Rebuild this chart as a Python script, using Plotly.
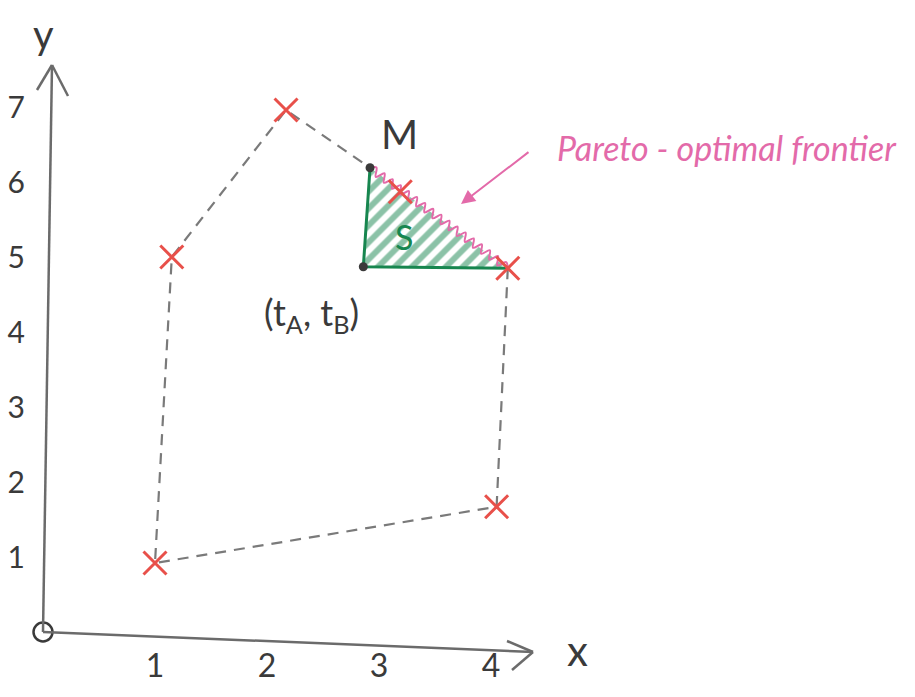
import numpy as np
import plotly.graph_objects as go

# ---- data -------------------------------------------------------------
x_ticks = [1, 2, 3, 4]
y_ticks = [1, 2, 3, 4, 5, 6, 7]

# feasible outcomes (red crosses), listed around the polygon
pts_x = [1.00, 4.05, 4.15, 3.19, 2.17, 1.15]
pts_y = [0.92, 1.67, 4.85, 5.87, 6.96, 5.00]

# corner points of the dominated region S
M_pt = (2.92, 6.19)
T_pt = (2.86, 4.87)

# ---- pixel <-> data helpers (x: 112 px/unit, y: 75 px/unit) ----------
W, H = 915, 697
X0_PX, Y0_PX, XU, YU = 43, 632, 112, 75
x_range = [-X0_PX / XU, (W - X0_PX) / XU]
y_range = [(Y0_PX - H) / YU, Y0_PX / YU]


def to_px(x, y):
    return X0_PX + XU * np.asarray(x), Y0_PX - YU * np.asarray(y)


def to_data(px, py):
    return (np.asarray(px) - X0_PX) / XU, (Y0_PX - np.asarray(py)) / YU


def squiggle(p0, p1, period=10.0, amp=4.0):
    """Wavy rendering of a straight segment, built in screen space."""
    a = np.array(to_px(*p0), float)
    b = np.array(to_px(*p1), float)
    d = b - a
    length = np.hypot(*d)
    n = int(length / (period / 2))
    t = np.linspace(0, 1, n + 1)
    normal = np.array([-d[1], d[0]]) / length
    off = amp * np.where(np.arange(n + 1) % 2 == 0, 1, -1)
    off[0] = off[-1] = 0
    pts = a[None, :] + t[:, None] * d[None, :] + off[:, None] * normal[None, :]
    return to_data(pts[:, 0], pts[:, 1])


GREY = "#7a7a7a"
INK = "#3a3a3a"
RED = "#e8504a"
GREEN = "#17864f"
PINK = "#e36aa9"
HAND = "Lato"

fig = go.Figure()

# dashed boundary of the feasible set, ending at M
route = [2, 1, 0, 5, 4]
fig.add_trace(go.Scatter(
    x=[pts_x[i] for i in route] + [M_pt[0]],
    y=[pts_y[i] for i in route] + [M_pt[1]],
    mode="lines", line=dict(color=GREY, width=2.2, dash="11px,8px"),
    hoverinfo="skip", showlegend=False))

# hatched dominated region S
fig.add_trace(go.Scatter(
    x=[T_pt[0], M_pt[0], pts_x[2], T_pt[0]],
    y=[T_pt[1], M_pt[1], pts_y[2], T_pt[1]],
    mode="none", fill="toself", fillcolor="rgba(255,255,255,0)",
    fillpattern=dict(shape="/", fgcolor=GREEN, bgcolor="rgba(255,255,255,0)",
                     size=12, solidity=0.5),
    hoverinfo="skip", showlegend=False))

# green legs of the triangle
fig.add_trace(go.Scatter(
    x=[M_pt[0], T_pt[0], pts_x[2]], y=[M_pt[1], T_pt[1], pts_y[2]],
    mode="lines", line=dict(color=GREEN, width=3),
    hoverinfo="skip", showlegend=False))

# Pareto-optimal frontier (wavy pink)
sx, sy = squiggle(M_pt, (pts_x[2], pts_y[2]))
fig.add_trace(go.Scatter(
    x=sx, y=sy, mode="lines", line=dict(color=PINK, width=2, shape="spline"),
    hoverinfo="skip", showlegend=False))

# outcomes
fig.add_trace(go.Scatter(
    x=pts_x, y=pts_y, mode="markers",
    marker=dict(symbol="x-thin", size=23, color=RED, line=dict(color=RED, width=3)),
    hoverinfo="skip", showlegend=False))

# M and (tA, tB)
fig.add_trace(go.Scatter(
    x=[M_pt[0], T_pt[0]], y=[M_pt[1], T_pt[1]], mode="markers",
    marker=dict(symbol="circle", size=9, color=INK),
    hoverinfo="skip", showlegend=False))

# origin
fig.add_trace(go.Scatter(
    x=[0], y=[0], mode="markers",
    marker=dict(symbol="circle-open", size=19, color=INK, line=dict(color=INK, width=2.5)),
    hoverinfo="skip", showlegend=False))

# hand-drawn axes with open arrow heads
ax_style = dict(color="#6b6b6b", width=2.5)
y_tip = to_data(52, 65)
x_tip = to_data(533, 652)
fig.add_shape(type="line", x0=0, y0=0, x1=float(y_tip[0]), y1=float(y_tip[1]), line=ax_style)
fig.add_shape(type="line", x0=0, y0=0, x1=float(x_tip[0]), y1=float(x_tip[1]), line=ax_style)
for arm in [(37, 90), (68, 96)]:
    a = to_data(*arm)
    fig.add_shape(type="line", x0=float(a[0]), y0=float(a[1]),
                  x1=float(y_tip[0]), y1=float(y_tip[1]), line=ax_style)
for arm in [(507, 641), (512, 670)]:
    a = to_data(*arm)
    fig.add_shape(type="line", x0=float(a[0]), y0=float(a[1]),
                  x1=float(x_tip[0]), y1=float(x_tip[1]), line=ax_style)


def label(px, py, text, size, color=INK, **kw):
    x, y = to_data(px, py)
    fig.add_annotation(x=float(x), y=float(y), text=text, showarrow=False,
                       font=dict(family=HAND, size=size, color=color), **kw)


label(43, 34, "y", 40)
label(577, 650, "x", 42)
label(399, 134, "M", 40)
label(311, 314, "(t<sub>A</sub>, t<sub>B</sub>)", 36)
label(404, 236, "S", 34, GREEN)
label(727, 147, "<i>Pareto - optimal frontier</i>", 34, PINK)

# pointer from the caption to the frontier
tip = to_data(461, 204)
tail = to_data(530, 151)
fig.add_annotation(x=float(tip[0]), y=float(tip[1]), ax=float(tail[0]), ay=float(tail[1]),
                   axref="x", ayref="y", text="", showarrow=True,
                   arrowhead=2, arrowsize=1.4, arrowwidth=2, arrowcolor=PINK)

fig.update_layout(
    width=W, height=H, margin=dict(l=0, r=0, t=0, b=0),
    paper_bgcolor="white", plot_bgcolor="white",
    xaxis=dict(range=x_range, showgrid=False, zeroline=False, showline=False,
               tickvals=x_ticks, ticks="", anchor="free",
               position=(H - Y0_PX) / H, ticklabelstandoff=12,
               tickfont=dict(family=HAND, size=32, color=INK), automargin=False),
    yaxis=dict(range=y_range, showgrid=False, zeroline=False, showline=False,
               tickvals=y_ticks, ticks="", anchor="free",
               position=X0_PX / W, ticklabelstandoff=18,
               tickfont=dict(family=HAND, size=30, color=INK), automargin=False),
)

fig.write_html("out.html")
